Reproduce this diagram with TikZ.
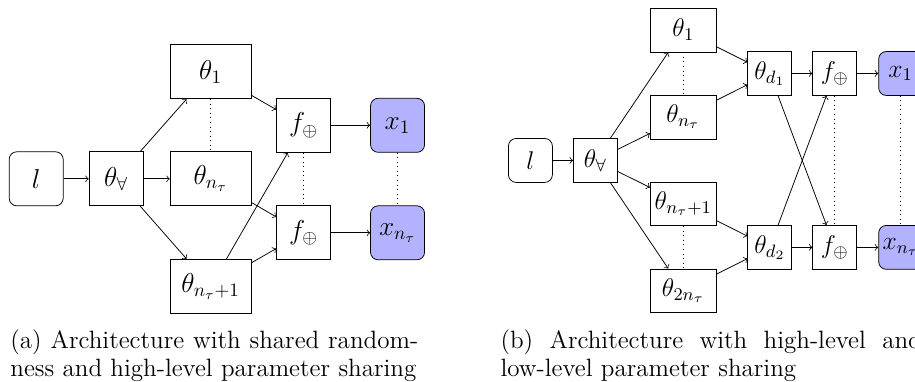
\RequirePackage{fix-cm}
\documentclass[tikz,border=0pt,12pt]{standalone}
\usepackage{amsmath}
\begin{document}
\begin{tikzpicture}[line width=0.4pt,>=to,
    font=\fontsize{14.4}{17}\selectfont,
    blk/.style={draw,minimum size=1cm,inner sep=2pt},
    wblk/.style={blk,minimum width=1.5cm},
    rblk/.style={blk,rounded corners},
    xblk/.style={rblk,fill=blue!30},
    capt/.style={anchor=north west,inner sep=0pt,align=left,text width=#1,
      font=\fontsize{13.2}{15.2}\selectfont}]
  \useasboundingbox (0,0) rectangle (16.94,-7.06);
  \clip (0,0) rectangle (16.94,-7.06);
  % (a) shared randomness
  \node[rblk] (la)  at (0.67,-3.31) {$l$};
  \node[blk]  (ta)  at (2.15,-3.31) {$\theta_\forall$};
  \node[wblk] (t1a) at (3.90,-1.33) {$\theta_1$};
  \node[wblk] (tna) at (3.90,-3.31) {$\theta_{n_\tau}$};
  \node[wblk] (tma) at (3.90,-5.30) {$\theta_{n_\tau+1}$};
  \node[blk]  (f1a) at (5.62,-2.32) {$f_\oplus$};
  \node[blk]  (f2a) at (5.62,-4.31) {$f_\oplus$};
  \node[xblk] (x1a) at (7.36,-2.32) {$x_1$};
  \node[xblk] (xna) at (7.36,-4.31) {$x_{n_\tau}$};
  \draw[->] (la) -- (ta);
  \foreach \t in {t1a,tna,tma} \draw[->] (ta) -- (\t);
  \draw[->] (t1a) -- (f1a);
  \draw[->] (tna) -- (f2a);
  \draw[->] (tma) -- (f1a);
  \draw[->] (tma) -- (f2a);
  \draw[->] (f1a) -- (x1a);
  \draw[->] (f2a) -- (xna);
  \draw[dotted] (t1a) -- (tna);
  \draw[dotted] (f1a) -- (f2a);
  \draw[dotted] (x1a) -- (xna);
  % (b) high- and low-level sharing
  \begin{scope}[shift={(9.82,-2.97)},scale=0.813,
      font=\fontsize{13.5}{16}\selectfont,
      blk/.append style={minimum size=0.813cm},
      wblk/.append style={minimum width=1.22cm}]
    \node[rblk] (lb)  at (0,0)      {$l$};
    \node[blk]  (tb)  at (1.48,0)   {$\theta_\forall$};
    \node[wblk] (t1b) at (3.48,2.97)  {$\theta_1$};
    \node[wblk] (tnb) at (3.48,0.99)  {$\theta_{n_\tau}$};
    \node[wblk] (tmb) at (3.48,-0.99) {$\theta_{n_\tau+1}$};
    \node[wblk] (t2b) at (3.48,-2.97) {$\theta_{2n_\tau}$};
    \node[blk]  (d1b) at (5.45,1.98)  {$\theta_{d_1}$};
    \node[blk]  (d2b) at (5.45,-1.98) {$\theta_{d_2}$};
    \node[blk]  (f1b) at (6.93,1.98)  {$f_\oplus$};
    \node[blk]  (f2b) at (6.93,-1.98) {$f_\oplus$};
    \node[xblk] (x1b) at (8.43,1.98)  {$x_1$};
    \node[xblk] (xnb) at (8.43,-1.98) {$x_{n_\tau}$};
  \end{scope}
  \draw[->] (lb) -- (tb);
  \foreach \t in {t1b,tnb,tmb,t2b} \draw[->] (tb) -- (\t);
  \draw[->] (t1b) -- (d1b);
  \draw[->] (tnb) -- (d1b);
  \draw[->] (tmb) -- (d2b);
  \draw[->] (t2b) -- (d2b);
  \draw[->] (d1b) -- (f1b);
  \draw[->] (d2b) -- (f2b);
  \draw[->] (d1b) -- (f2b);
  \draw[->] (d2b) -- (f1b);
  \draw[->] (f1b) -- (x1b);
  \draw[->] (f2b) -- (xnb);
  \draw[dotted] (t1b) -- (tnb);
  \draw[dotted] (tmb) -- (t2b);
  \draw[dotted] (f1b) -- (f2b);
  \draw[dotted] (x1b) -- (xnb);
  % captions
  \node[capt=7.55cm] (capa) at (0.185,-6.09)
    {\hbox to 7.55cm{(a)\hfil Architecture\hfil with\hfil shared\hfil random-}\\ness and high-level parameter sharing};
  \node[capt=7.8cm] (capb) at (9.26,-6.09)
    {\hbox to 7.8cm{(b)\hfil Architecture\hfil with\hfil high-level\hfil and}\\low-level parameter sharing};
\end{tikzpicture}
\end{document}
